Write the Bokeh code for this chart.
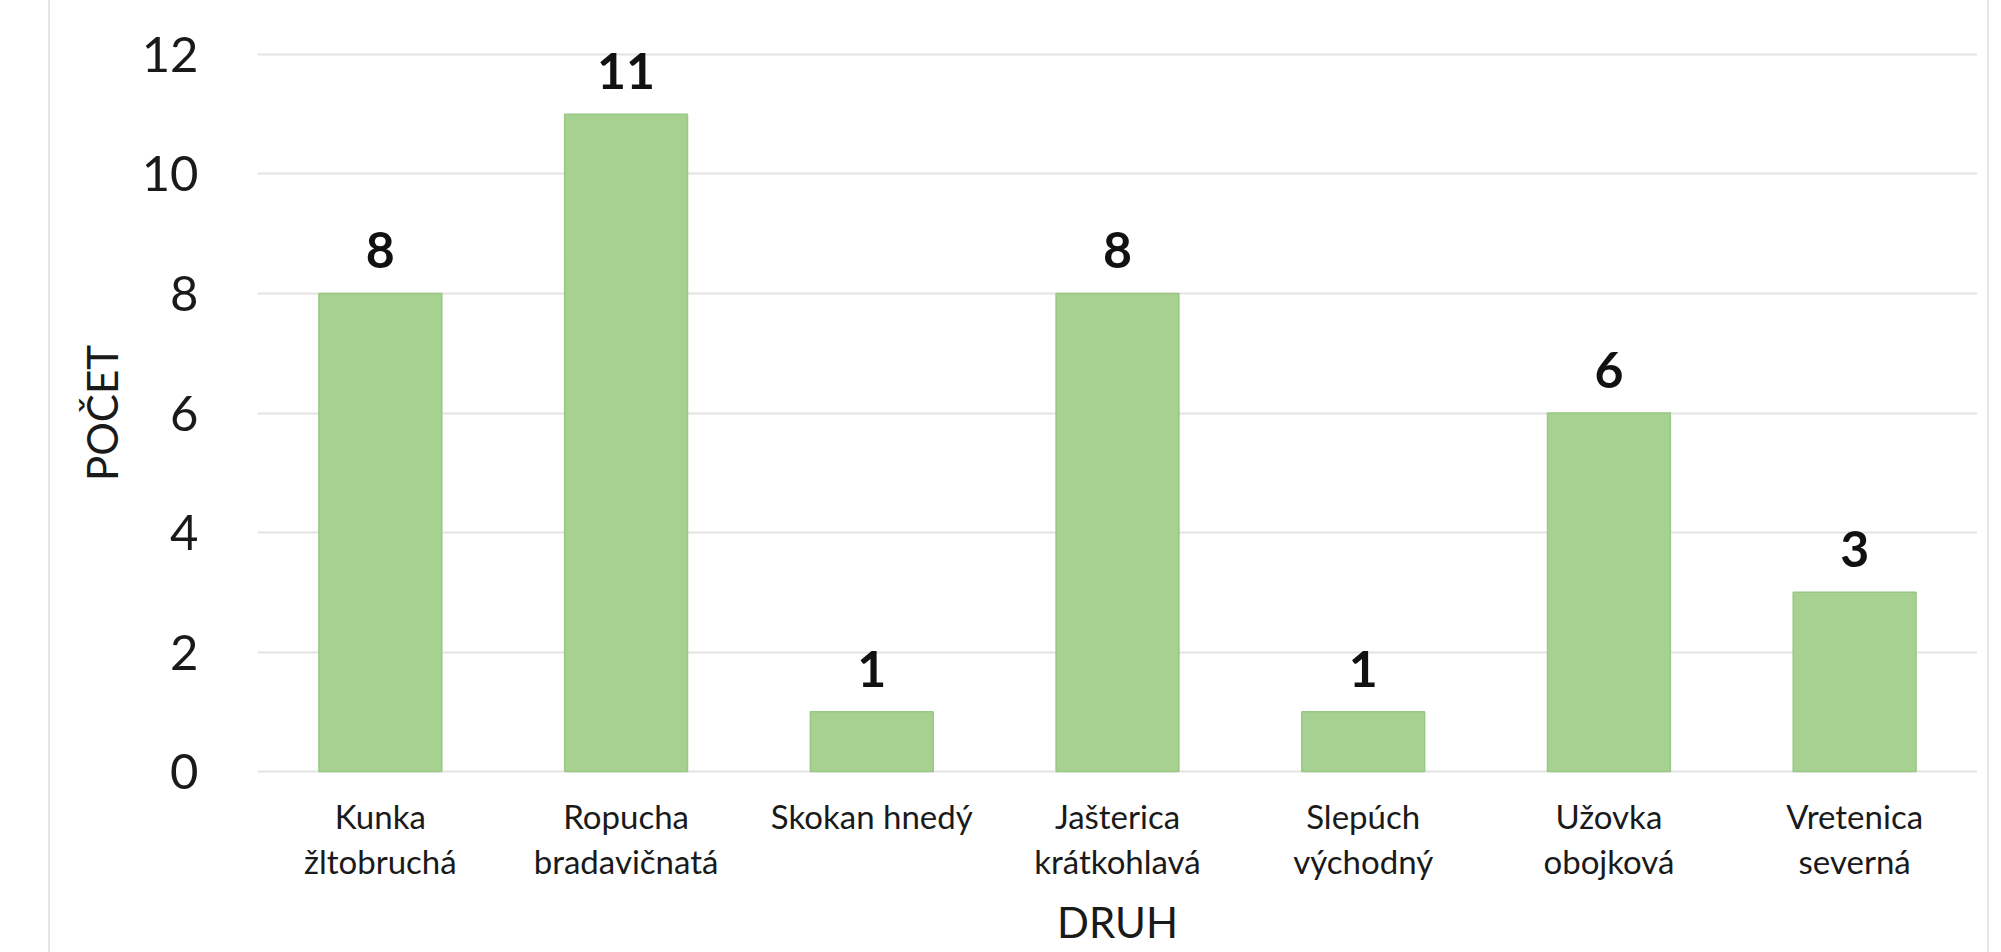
from bokeh.plotting import figure
from bokeh.models import (ColumnDataSource, LabelSet, FixedTicker, Range1d,
                          CategoricalAxis, CustomJSTickFormatter)
from bokeh.core.properties import value
from bokeh.embed import file_html
from bokeh.resources import INLINE

species = ["Kunka žltobruchá", "Ropucha bradavičnatá", "Skokan hnedý",
           "Jašterica krátkohlavá", "Slepúch východný", "Užovka obojková",
           "Vretenica severná"]
label_line1 = ["Kunka", "Ropucha", "Skokan hnedý", "Jašterica", "Slepúch",
               "Užovka", "Vretenica"]
label_line2 = ["žltobruchá", "bradavičnatá", "", "krátkohlavá", "východný",
               "obojková", "severná"]
counts = [8, 11, 1, 8, 1, 6, 3]
y_ticks = [0, 2, 4, 6, 8, 10, 12]
x_title = "DRUH"
y_title = "POČET"

FONT = "Lato"
TXT = "#1a1a1a"

src = ColumnDataSource(dict(x=species, top=counts, lbl=[str(c) for c in counts]))

p = figure(x_range=species, y_range=Range1d(-0.05, 12.05), width=1941, height=952,
           output_backend="svg", toolbar_location=None,
           min_border_left=207, min_border_right=14, min_border_top=51,
           min_border_bottom=178,
           margin=(0, 0, 0, 48),
           styles={"border-left": "2px solid #e6e6e6", "border-right": "2px solid #e6e6e6"})

p.vbar(x="x", top="top", bottom=0, width=0.5, source=src,
       fill_color="#a7d190", line_color="#98c883", line_width=1.5)

p.add_layout(LabelSet(x="x", y="top", text="lbl", source=src, text_align="center",
                      text_baseline="alphabetic", y_offset=25,
                      text_font=value(FONT), text_font_style="bold",
                      text_font_size="50px", text_color="#111111"))

p.outline_line_color = None
p.xgrid.grid_line_color = None
p.ygrid.grid_line_color = "#e3e3e3"
p.ygrid.grid_line_width = 2
p.yaxis.ticker = FixedTicker(ticks=y_ticks)

x2 = CategoricalAxis()
p.add_layout(x2, "below")

for ax in (p.xaxis[0], x2, p.yaxis[0]):
    ax.axis_line_color = None
    ax.major_tick_line_color = None
    ax.minor_tick_line_color = None
    ax.major_label_text_font = FONT
    ax.major_label_text_color = TXT
    ax.axis_label_text_font = FONT
    ax.axis_label_text_font_style = "normal"
    ax.axis_label_text_color = TXT
    ax.axis_label_text_font_size = "42px"

ya = p.yaxis[0]
ya.major_label_text_font_size = "49px"
ya.major_label_standoff = 53
ya.axis_label = y_title
ya.axis_label_standoff = 12

fmt_code = "const i = names.indexOf(tick); return i >= 0 ? lines[i] : tick;"

x1 = p.xaxis[0]
x1.formatter = CustomJSTickFormatter(args=dict(names=species, lines=label_line1),
                                     code=fmt_code)
x1.major_label_text_font_size = "33px"
x1.major_label_standoff = 15

x2.formatter = CustomJSTickFormatter(args=dict(names=species, lines=label_line2),
                                     code=fmt_code)
x2.major_label_text_font_size = "33px"
x2.major_label_standoff = -4
x2.axis_label = x_title
x2.axis_label_standoff = 13

open("out.html", "w").write(file_html(p, INLINE))
